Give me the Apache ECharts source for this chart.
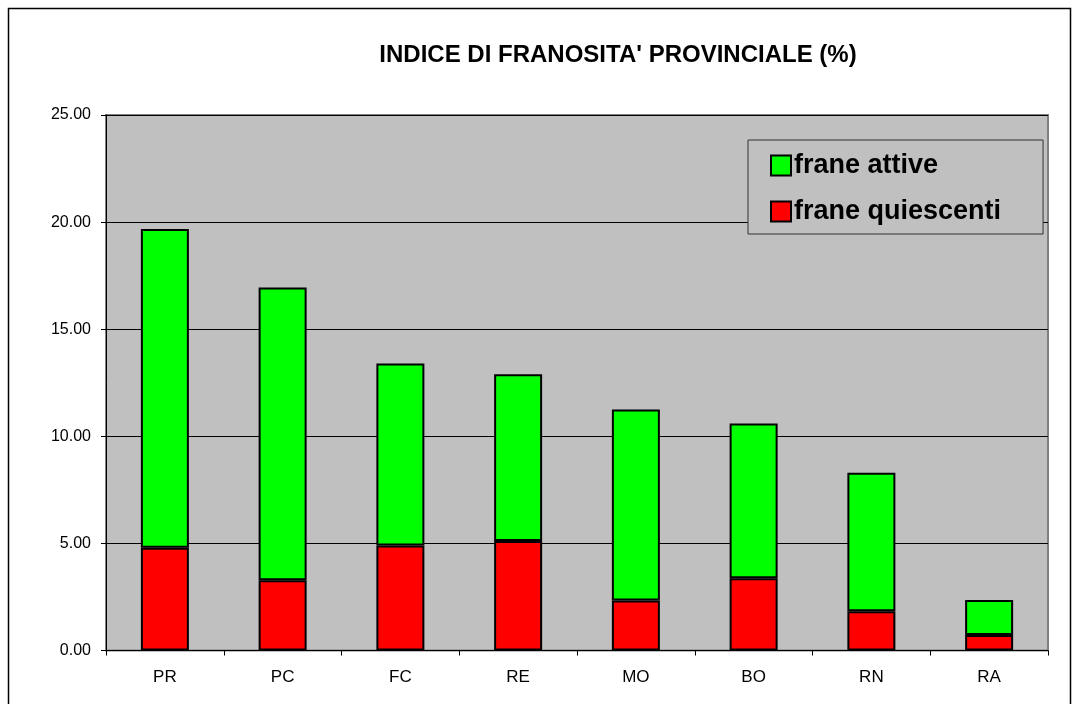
<!DOCTYPE html>
<html><head><meta charset="utf-8">
<script src="https://cdn.jsdelivr.net/npm/echarts@6/dist/echarts.min.js"></script>
<style>html,body{margin:0;padding:0;background:#fff;}#c{width:1079px;height:704px;}</style>
</head><body><div id="c"></div>
<script>
const categories = ['PR','PC','FC','RE','MO','BO','RN','RA'];
const totals = [19.68, 16.95, 13.40, 12.90, 11.25, 10.60, 8.30, 2.36];
const quiescenti = [4.80, 3.28, 4.90, 5.11, 2.33, 3.37, 1.83, 0.72];
const attive = totals.map((t, i) => +(t - quiescenti[i]).toFixed(2));
const yTicks = [0, 5, 10, 15, 20, 25];

const chart = echarts.init(document.getElementById('c'), null, {renderer: 'canvas'});
chart.setOption({
  animation: false,
  backgroundColor: '#ffffff',
  title: {
    text: "INDICE DI FRANOSITA' PROVINCIALE (%)",
    left: 613, top: 38, textAlign: 'center',
    textStyle: {fontFamily: 'Liberation Sans, Arial', fontWeight: 'bold', fontSize: 24, color: '#000'}
  },
  graphic: [{
    type: 'rect', shape: {x: 8.5, y: 8.5, width: 1062, height: 720},
    style: {fill: 'none', stroke: '#000', lineWidth: 1.5}, z: -1
  }],
  legend: {
    data: ['frane attive', 'frane quiescenti'],
    orient: 'vertical', left: 748, top: 140,
    padding: [12, 42, 9, 22],
    itemGap: 19, itemWidth: 20, itemHeight: 20,
    backgroundColor: '#C0C0C0', borderColor: '#333', borderWidth: 1,
    icon: 'rect',
    itemStyle: {borderColor: '#000', borderWidth: 2},
    textStyle: {fontFamily: 'Liberation Sans, Arial', fontWeight: 'bold', fontSize: 27, lineHeight: 27, color: '#000', padding: [0,0,0,-2]}
  },
  grid: {left: 106, right: 31, top: 115, bottom: 53.5, show: true, backgroundColor: '#C0C0C0', borderColor: '#808080', borderWidth: 2},
  xAxis: {
    type: 'category', data: categories,
    axisLine: {lineStyle: {color: '#000', width: 1}},
    axisTick: {show: true, length: 5, lineStyle: {color: '#000'}},
    axisLabel: {fontFamily: 'Liberation Sans, Arial', fontSize: 17, color: '#000', margin: 18},
    splitLine: {show: false}
  },
  yAxis: {
    type: 'value', min: yTicks[0], max: yTicks[yTicks.length - 1], interval: 5,
    axisLine: {show: true, lineStyle: {color: '#000', width: 1}},
    axisTick: {show: true, length: 5, lineStyle: {color: '#000'}},
    axisLabel: {fontFamily: 'Liberation Sans, Arial', fontSize: 16, color: '#000', margin: 15,
      formatter: v => v.toFixed(2)},
    splitLine: {show: true, lineStyle: {color: '#000', width: 1}}
  },
  series: [
    {name: 'frane quiescenti', type: 'bar', stack: 'a', data: quiescenti, barWidth: 48,
     itemStyle: {color: '#FF0000', borderColor: '#000', borderWidth: 2}},
    {name: 'frane attive', type: 'bar', stack: 'a', data: attive, barWidth: 48,
     itemStyle: {color: '#00FF00', borderColor: '#000', borderWidth: 2}}
  ]
});
</script></body></html>
